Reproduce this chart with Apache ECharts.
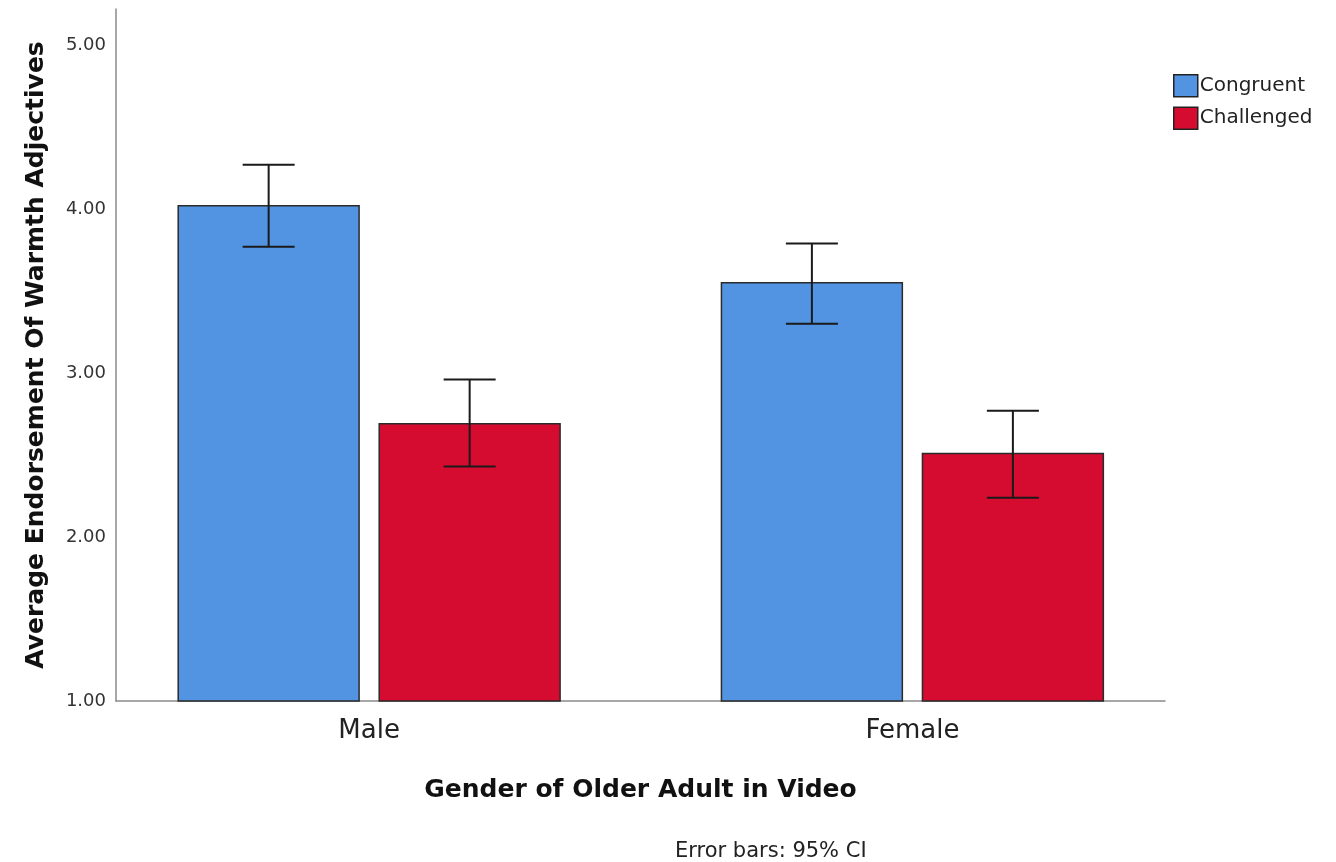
<!DOCTYPE html>
<html>
<head>
<meta charset="utf-8">
<script src="https://cdn.jsdelivr.net/npm/echarts@6/dist/echarts.min.js"></script>
<style>
  html, body { margin: 0; padding: 0; background: #fff; }
  #chart { width: 1336px; height: 862px; }
</style>
</head>
<body>
<div id="chart"></div>
<script>
// Mean warmth endorsement by gender of the older adult, with 95% CI bounds
const categories = ['Male', 'Female'];
const seriesNames = ['Congruent', 'Challenged'];
const congruentMean = [4.02, 3.55];
const congruentLow = [3.77, 3.30];
const congruentHigh = [4.27, 3.79];
const challengedMean = [2.69, 2.51];
const challengedLow = [2.43, 2.24];
const challengedHigh = [2.96, 2.77];
const yTicks = [1, 2, 3, 4, 5];

const Y_MIN = 1;
const Y_MAX = 5.22;
const BLUE = '#5294e2';
const RED = '#d60b30';
const FONT = '"DejaVu Sans", "Liberation Sans", Arial, sans-serif';

// bars sit side by side around each category index on a numeric x scale
const BAR_HALF = 0.1665;
const BAR_OFFSET = [-0.185, 0.185];

function barRenderer(offset, fill) {
  return function (params, api) {
    const i = api.value(0);
    const v = api.value(1);
    const tl = api.coord([i + offset - BAR_HALF, v]);
    const br = api.coord([i + offset + BAR_HALF, Y_MIN]);
    return {
      type: 'rect',
      shape: { x: tl[0], y: tl[1], width: br[0] - tl[0], height: br[1] - tl[1] },
      style: { fill: fill, stroke: '#2b2b2b', lineWidth: 1.5 }
    };
  };
}

function errorRenderer(offset) {
  return function (params, api) {
    const i = api.value(0);
    const lo = api.coord([i + offset, api.value(1)]);
    const hi = api.coord([i + offset, api.value(2)]);
    const cap = 26;
    const style = { stroke: '#1a1a1a', lineWidth: 2 };
    return {
      type: 'group',
      children: [
        { type: 'line', shape: { x1: lo[0], y1: lo[1], x2: hi[0], y2: hi[1] }, style: style },
        { type: 'line', shape: { x1: hi[0] - cap, y1: hi[1], x2: hi[0] + cap, y2: hi[1] }, style: style },
        { type: 'line', shape: { x1: lo[0] - cap, y1: lo[1], x2: lo[0] + cap, y2: lo[1] }, style: style }
      ]
    };
  };
}

const barData = (means) => means.map((v, i) => [i, v]);
const ciData = (lows, highs) => lows.map((v, i) => [i, v, highs[i]]);

const chart = echarts.init(document.getElementById('chart'), null, { renderer: 'canvas' });

chart.setOption({
  animation: false,
  backgroundColor: '#ffffff',
  color: [BLUE, RED],
  textStyle: { fontFamily: FONT },
  title: {
    text: 'Error bars: 95% CI',
    left: 670,
    top: 836,
    textStyle: { fontFamily: FONT, fontSize: 21, fontWeight: 'normal', color: '#222' }
  },
  legend: {
    data: seriesNames,
    orient: 'vertical',
    left: 1168,
    top: 69,
    itemWidth: 24,
    itemHeight: 22,
    itemGap: 9,
    icon: 'rect',
    itemStyle: { borderColor: '#222', borderWidth: 1.5 },
    textStyle: { fontFamily: FONT, fontSize: 20, color: '#222', padding: [0, 0, 0, -3] }
  },
  grid: { left: 116, right: 171, top: 9, bottom: 161 },
  xAxis: {
    type: 'value',
    min: -0.466,
    max: 1.465,
    name: 'Gender of Older Adult in Video',
    nameLocation: 'middle',
    nameGap: 77,
    nameTextStyle: { fontFamily: FONT, fontSize: 25, fontWeight: 'bold', color: '#111' },
    axisLine: { show: true, onZero: false, lineStyle: { color: '#8a8a8a', width: 1.5 } },
    axisTick: { show: false },
    splitLine: { show: false },
    axisLabel: {
      customValues: categories.map((c, i) => i),
      formatter: (v) => categories[Math.round(v)],
      fontFamily: FONT,
      fontSize: 26,
      color: '#222',
      margin: 17
    }
  },
  yAxis: {
    type: 'value',
    min: Y_MIN,
    max: Y_MAX,
    name: 'Average Endorsement Of Warmth Adjectives',
    nameLocation: 'middle',
    nameRotate: 90,
    nameGap: 67,
    nameTextStyle: { fontFamily: FONT, fontSize: 25, fontWeight: 'bold', color: '#111' },
    axisLine: { show: true, onZero: false, lineStyle: { color: '#8a8a8a', width: 1.5 } },
    axisTick: { show: false },
    splitLine: { show: false },
    axisLabel: {
      customValues: yTicks,
      formatter: (v) => v.toFixed(2),
      fontFamily: FONT,
      fontSize: 18,
      color: '#333',
      margin: 10
    }
  },
  series: [
    {
      name: seriesNames[0],
      type: 'custom',
      itemStyle: { color: BLUE },
      renderItem: barRenderer(BAR_OFFSET[0], BLUE),
      encode: { x: 0, y: 1 },
      data: barData(congruentMean),
      z: 2
    },
    {
      name: seriesNames[1],
      type: 'custom',
      itemStyle: { color: RED },
      renderItem: barRenderer(BAR_OFFSET[1], RED),
      encode: { x: 0, y: 1 },
      data: barData(challengedMean),
      z: 2
    },
    {
      name: 'Congruent CI',
      type: 'custom',
      renderItem: errorRenderer(BAR_OFFSET[0]),
      encode: { x: 0, y: [1, 2] },
      data: ciData(congruentLow, congruentHigh),
      z: 3
    },
    {
      name: 'Challenged CI',
      type: 'custom',
      renderItem: errorRenderer(BAR_OFFSET[1]),
      encode: { x: 0, y: [1, 2] },
      data: ciData(challengedLow, challengedHigh),
      z: 3
    }
  ]
});
</script>
</body>
</html>
